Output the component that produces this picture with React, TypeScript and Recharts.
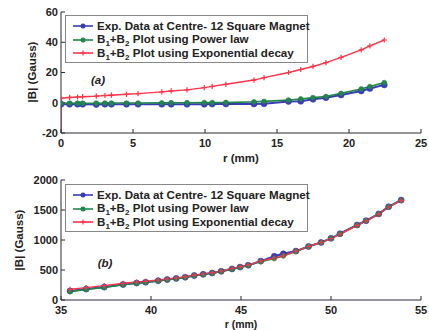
import React from 'react';
import { LineChart, Line, XAxis, YAxis } from 'recharts';

// ---------- data: panel (a) ----------
const TOP_R = [0, 0.6, 1.15, 1.5, 2.45, 3.05, 3.5, 4.55, 5.35, 7.0, 7.65, 8.75, 9.95, 10.5, 11.45, 13.4, 14.1, 15.8, 16.65, 17.5, 18.4, 19.45, 20.85, 21.45, 22.45];
const TOP_EXP = [-1, -1, -1, -1, -1.2, -1, -1, -1, -1, -1, -1, -1, -1, -0.9, -0.8, -0.8, -0.7, 0.9, 1.0, 2.3, 3.3, 5.1, 7.8, 9.4, 11.8];
const TOP_POWER = [-0.3, -0.3, -0.3, -0.3, -0.3, -0.2, -0.2, -0.2, -0.2, -0.1, 0, 0, 0.1, 0.1, 0.2, 0.6, 0.9, 1.8, 2.5, 3.4, 4.1, 6.2, 9.1, 10.7, 13.3];
const TOP_DECAY = [3.0, 3.5, 3.8, 4.0, 4.4, 4.8, 5.0, 5.6, 6.0, 7.2, 7.8, 8.5, 10.0, 10.8, 12.2, 15.0, 16.6, 20.0, 22.0, 24.0, 26.5, 30.0, 35.0, 37.6, 41.5];
const TOP_DECAY_START = { r: 0, decay: -25 }; // red trace runs off the bottom at r = 0

const TOP_X_TICKS = [0, 5, 10, 15, 20, 25];
const TOP_Y_TICKS = [-20, 0, 20, 40, 60];

// ---------- data: panel (b) ----------
const BOT_R = [35.5, 36.4, 37.4, 38.45, 39.2, 39.7, 40.4, 40.9, 41.4, 41.9, 42.4, 42.9, 43.4, 43.9, 44.5, 44.95, 45.4, 46.1, 46.85, 47.35, 48.05, 48.75, 49.45, 50.0, 50.5, 51.45, 51.95, 52.65, 53.2, 53.9];
const BOT_EXP = [150, 182, 215, 258, 283, 297, 322, 342, 360, 380, 408, 428, 450, 478, 518, 548, 580, 648, 730, 770, 815, 892, 960, 1028, 1105, 1250, 1322, 1435, 1555, 1665];
const BOT_POWER = [140, 176, 210, 253, 278, 293, 318, 338, 356, 376, 404, 424, 446, 474, 514, 544, 575, 640, 690, 735, 810, 890, 958, 1025, 1100, 1245, 1320, 1432, 1550, 1660];
const BOT_DECAY = [178, 206, 239, 278, 300, 312, 333, 350, 367, 385, 415, 433, 456, 483, 526, 556, 585, 652, 700, 735, 815, 895, 960, 1025, 1100, 1245, 1320, 1432, 1550, 1660];

const BOT_X_TICKS = [35, 40, 45, 50, 55];
const BOT_Y_TICKS = [0, 500, 1000, 1500, 2000];

const LEGEND_LABELS = ['Exp. Data at Centre- 12 Square Magnet', 'Plot using Power law', 'Plot using Exponential decay'];

const BLUE = '#3a3cb4';
const GREEN = '#23864a';
const RED = '#ff3349';
const AXIS = '#2a2a33';
const FONT = 'Liberation Sans, Arial, sans-serif';

const topData = TOP_R.map((r, i) => ({ r, exp: TOP_EXP[i], power: TOP_POWER[i] }));
const topRed = [TOP_DECAY_START, ...TOP_R.map((r, i) => ({ r, decay: TOP_DECAY[i] }))];
const botData = BOT_R.map((r, i) => ({ r, exp: BOT_EXP[i], power: BOT_POWER[i] }));
const botRed = BOT_R.map((r, i) => ({ r, decay: BOT_DECAY[i] }));

const circleDot = (color: string, rad: number) => (p: any) => {
  const { cx, cy, index } = p;
  if (cx == null || cy == null) return <g key={`c${index}`} />;
  return <circle key={`c${index}`} cx={cx} cy={cy} r={rad} fill={color} stroke={color} strokeWidth={0.6} />;
};

const plusDot = (minVal: number) => (p: any) => {
  const { cx, cy, index, value } = p;
  const v = Array.isArray(value) ? value[1] : value;
  if (cx == null || cy == null || v < minVal) return <g key={`p${index}`} />;
  const s = 2.6;
  return (
    <path
      key={`p${index}`}
      d={`M${cx - s},${cy}H${cx + s}M${cx},${cy - s}V${cy + s}`}
      stroke={RED}
      strokeWidth={1.2}
    />
  );
};

const tickStyle = { fill: '#222', fontSize: 11, fontWeight: 'bold' as const, fontFamily: FONT };

const LegendIcon = ({ color, kind }: { color: string; kind: 'circle' | 'plus' }) => (
  <svg width={20} height={8} style={{ position: 'absolute', left: 7, top: -4 }}>
    <line x1={0} y1={4} x2={20} y2={4} stroke={color} strokeWidth={1.6} />
    {kind === 'circle' ? (
      <circle cx={10} cy={4} r={2.5} fill={color} />
    ) : (
      <path d="M7.4,4H12.6M10,1.4V6.6" stroke={color} strokeWidth={1.2} />
    )}
  </svg>
);

const B12 = () => (
  <span>
    B<span style={{ fontSize: 8, position: 'relative', top: 3 }}>1</span>+B
    <span style={{ fontSize: 8, position: 'relative', top: 3 }}>2</span>{' '}
  </span>
);

const LegendBox = ({ left, top }: { left: number; top: number }) => {
  const rows = [
    { color: BLUE, kind: 'circle' as const, text: <span>{LEGEND_LABELS[0]}</span> },
    { color: GREEN, kind: 'circle' as const, text: <span><B12 />{LEGEND_LABELS[1]}</span> },
    { color: RED, kind: 'plus' as const, text: <span><B12 />{LEGEND_LABELS[2]}</span> },
  ];
  return (
    <div
      style={{
        position: 'absolute',
        left,
        top,
        width: 243,
        height: 48,
        border: '1px solid #888',
        background: '#fff',
        fontFamily: FONT,
        fontWeight: 'bold',
        fontSize: 11.6,
        color: '#222',
        boxSizing: 'border-box',
      }}
    >
      {rows.map((row, i) => (
        <div key={i} style={{ position: 'absolute', left: 0, top: 10 + i * 13.5, height: 0 }}>
          <LegendIcon color={row.color} kind={row.kind} />
          <div style={{ position: 'absolute', left: 31, top: -7.5, whiteSpace: 'nowrap', lineHeight: '13px' }}>
            {row.text}
          </div>
        </div>
      ))}
    </div>
  );
};

const Title = ({ x, y, text, rotate, italic, size = 11.5 }: { x: number; y: number; text: string; rotate?: boolean; italic?: boolean; size?: number }) => (
  <div
    style={{
      position: 'absolute',
      left: x,
      top: y,
      transform: `translate(-50%, -50%)${rotate ? ' rotate(-90deg)' : ''}`,
      whiteSpace: 'nowrap',
      fontFamily: FONT,
      fontWeight: 'bold',
      fontStyle: italic ? 'italic' : 'normal',
      fontSize: size,
      color: '#222',
      lineHeight: '13px',
    }}
  >
    {text}
  </div>
);

const Panel = ({
  data,
  red,
  xDomain,
  yDomain,
  xTicks,
  yTicks,
  height,
  marginTop,
  xAxisHeight,
  xTickMargin,
}: any) => (
  <LineChart width={429} height={height} data={data} margin={{ top: marginTop, right: 8, left: 0, bottom: 0 }}>
    <XAxis
      dataKey="r"
      type="number"
      domain={xDomain}
      ticks={xTicks}
      allowDataOverflow
      height={xAxisHeight}
      tickSize={-4}
      tickMargin={xTickMargin}
      tick={tickStyle}
      axisLine={{ stroke: AXIS }}
      tickLine={{ stroke: AXIS }}
    />
    <XAxis
      xAxisId="top"
      orientation="top"
      dataKey="r"
      type="number"
      domain={xDomain}
      ticks={xTicks}
      allowDataOverflow
      height={0}
      tickSize={-4}
      tickFormatter={() => ''}
      axisLine={{ stroke: AXIS }}
      tickLine={{ stroke: AXIS }}
    />
    <YAxis
      type="number"
      domain={yDomain}
      ticks={yTicks}
      allowDataOverflow
      width={61}
      tickSize={-4}
      tickMargin={7}
      tick={tickStyle}
      axisLine={{ stroke: AXIS }}
      tickLine={{ stroke: AXIS }}
    />
    <YAxis
      yAxisId="right"
      orientation="right"
      type="number"
      domain={yDomain}
      ticks={yTicks}
      allowDataOverflow
      width={0}
      tickSize={-4}
      tickFormatter={() => ''}
      axisLine={{ stroke: AXIS }}
      tickLine={{ stroke: AXIS }}
    />
    <Line dataKey="exp" stroke={BLUE} strokeWidth={2} dot={circleDot(BLUE, 3)} isAnimationActive={false} />
    <Line dataKey="power" stroke={GREEN} strokeWidth={1.6} dot={circleDot(GREEN, 2.4)} isAnimationActive={false} />
    <Line data={red} dataKey="decay" stroke={RED} strokeWidth={1.4} dot={plusDot(yDomain[0])} isAnimationActive={false} />
  </LineChart>
);

export default function App() {
  return (
    <div style={{ position: 'absolute', left: 0, top: 0, width: 429, height: 331, background: '#fff' }}>
      <div style={{ position: 'absolute', left: 0, top: 0 }}>
        <Panel
          data={topData}
          red={topRed}
          xDomain={[0, 25]}
          yDomain={[-20, 60]}
          xTicks={TOP_X_TICKS}
          yTicks={TOP_Y_TICKS}
          height={165}
          marginTop={12}
          xAxisHeight={32}
          xTickMargin={10}
        />
      </div>
      <div style={{ position: 'absolute', left: 0, top: 165 }}>
        <Panel
          data={botData}
          red={botRed}
          xDomain={[35, 55]}
          yDomain={[0, 2000]}
          xTicks={BOT_X_TICKS}
          yTicks={BOT_Y_TICKS}
          height={166}
          marginTop={15}
          xAxisHeight={31}
          xTickMargin={10}
        />
      </div>
      <LegendBox left={65} top={15} />
      <LegendBox left={65} top={184} />
      <Title x={98} y={80} text="(a)" italic />
      <Title x={105} y={263} text="(b)" italic />
      <Title x={241} y={158} text="r (mm)" />
      <Title x={241} y={324} text="r (mm)" size={10.5} />
      <Title x={32} y={72} text="|B| (Gauss)" rotate />
      <Title x={19} y={240} text="|B| (Gauss)" rotate />
    </div>
  );
}
